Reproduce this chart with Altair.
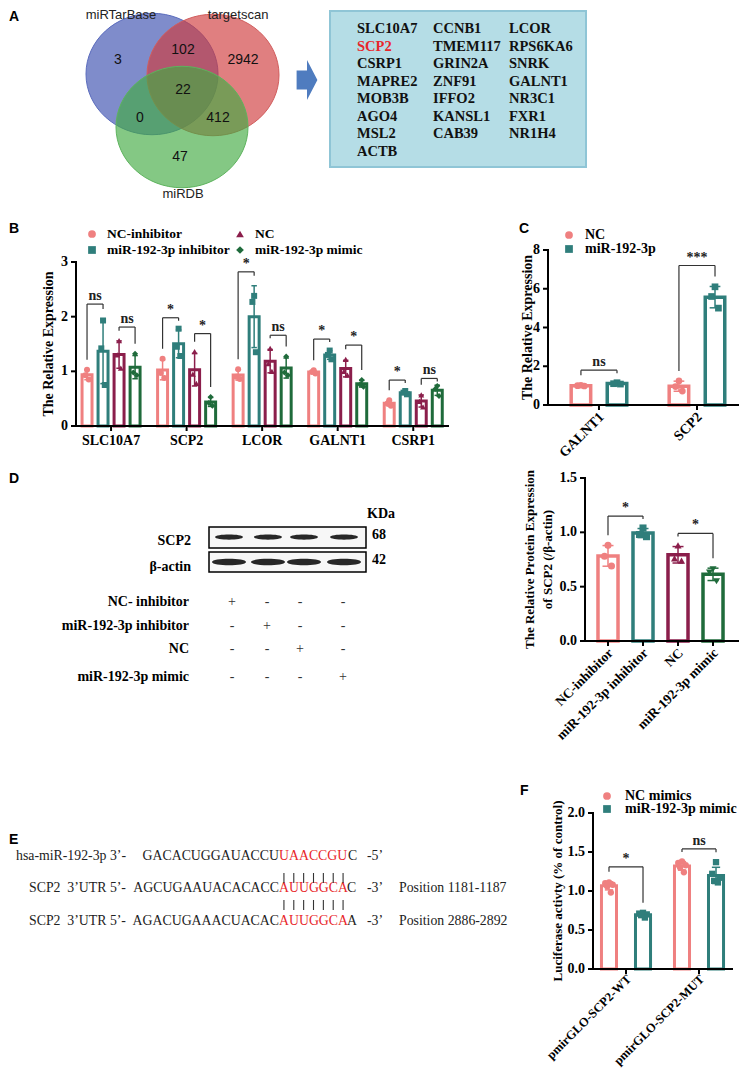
import altair as alt
import numpy as np
import pandas as pd

W, H = 731, 1064
OX, OY = 8, 8
SERIF = "Liberation Serif"
SANS = "Liberation Sans"

PINK, TEAL, MAROON, GREEN = "#EF8080", "#2F7E7B", "#8B1E4B", "#1F6B3B"

# ---------------- data ----------------
# A: Venn + predicted targets
venn_sets = ["miRTarBase", "targetscan", "miRDB"]
venn_region_counts = [3, 102, 2942, 22, 0, 412, 47]
target_genes = ["SLC10A7", "CCNB1", "LCOR", "SCP2", "TMEM117", "RPS6KA6", "CSRP1",
                "GRIN2A", "SNRK", "MAPRE2", "ZNF91", "GALNT1", "MOB3B", "IFFO2",
                "NR3C1", "AGO4", "KANSL1", "FXR1", "MSL2", "CAB39", "NR1H4", "ACTB"]
highlight_gene = "SCP2"

# B: qPCR of candidate targets
b_genes = ["SLC10A7", "SCP2", "LCOR", "GALNT1", "CSRP1"]
b_groups = ["NC-inhibitor", "miR-192-3p inhibitor", "NC", "miR-192-3p mimic"]
b_nc_inhibitor = [[1.03, 0.93, 0.85], [1.23, 0.97, 0.88], [1.04, 0.90, 0.86], [1.02, 0.99, 0.96], [0.47, 0.41, 0.37]]
b_mir_inhibitor = [[1.93, 1.42, 0.75], [1.78, 1.45, 1.28], [2.38, 2.27, 1.35], [1.38, 1.30, 1.22], [0.64, 0.61, 0.58]]
b_nc = [[1.56, 1.30, 1.06], [1.36, 0.95, 0.78], [1.42, 1.14, 1.00], [1.22, 1.00, 0.93], [0.57, 0.45, 0.35]]
b_mimic = [[1.32, 0.98, 0.93], [0.53, 0.42, 0.37], [1.27, 0.98, 0.93], [0.84, 0.76, 0.72], [0.73, 0.68, 0.55]]
b_sig_inhibitor = ["ns", "*", "*", "*", "*"]
b_sig_inhibitor_y = [2.23, 1.98, 2.82, 1.59, 0.84]
b_sig_mimic = ["ns", "*", "ns", "*", "ns"]
b_sig_mimic_y = [1.81, 1.69, 1.66, 1.48, 0.87]
b_yticks = [0, 1, 2, 3]

# C
c_genes = ["GALNT1", "SCP2"]
c_groups = ["NC", "miR-192-3p"]
c_nc = [[1.02, 1.00, 0.98], [1.24, 0.95, 0.72]]
c_mir = [[1.15, 1.10, 1.08], [6.10, 5.60, 5.00]]
c_sig = ["ns", "***"]
c_sig_y = [1.8, 7.2]
c_yticks = [0, 2, 4, 6, 8]

# D
d_groups = ["NC-inhibitor", "miR-192-3p inhibitor", "NC", "miR-192-3p mimic"]
d_values = [[0.88, 0.78, 0.69], [1.04, 0.98, 0.96], [0.88, 0.76, 0.74], [0.66, 0.63, 0.55]]
d_sig = ["*", "*"]
d_sig_y = [1.15, 0.99]
d_yticks = [0, 0.5, 1.0, 1.5]
blot_proteins = ["SCP2", "β-actin"]
blot_kda = ["68", "42"]
treatments = ["NC- inhibitor", "miR-192-3p inhibitor", "NC", "miR-192-3p mimic"]
treatment_design = ["+---", "-+--", "--+-", "---+"]

# E
mirna_label = "hsa-miR-192-3p 3’-"
mirna_upstream = "GACACUGGAUACCU"
mirna_seed = "UAACCGU"
mirna_tail = "C"
mirna_end = "-5’"
utr_label = "SCP2\u00a0\u00a03’UTR 5’-"
utr_upstream = ["AGCUGAAUACACACC", "AGACUGAAACUACAC"]
utr_site = ["AUUGGCA", "AUUGGCA"]
utr_tail = ["C", "A"]
utr_end = "-3’"
utr_positions = ["Position 1181-1187", "Position 2886-2892"]

# F
f_constructs = ["pmirGLO-SCP2-WT", "pmirGLO-SCP2-MUT"]
f_groups = ["NC mimics", "miR-192-3p mimic"]
f_nc = [[1.11, 1.10, 1.08, 1.06, 0.98], [1.38, 1.36, 1.33, 1.30, 1.24]]
f_mir = [[0.72, 0.71, 0.70, 0.69, 0.66], [1.37, 1.22, 1.17, 1.13, 1.11]]
f_sig = ["*", "ns"]
f_sig_y = [1.31, 1.54]
f_yticks = [0, 0.5, 1.0, 1.5, 2.0]

# ---------------- layout (page pixels) ----------------
PANEL_LETTERS = [(9, 17, "A"), (9, 229, "B"), (519, 229, "C"), (9, 479, "D"), (9, 840, "E"), (520, 791, "F")]
VENN_CENTERS = [(152, 74), (213, 75), (182, 127)]
VENN_LABEL_POS = [(121, 15), (238, 15), (183, 194)]
VENN_NUM_POS = [(118, 60), (183, 50), (243, 60), (183, 90), (140, 118), (218, 118), (180, 157)]
VENN_FILL = ["#3A4EAF", "#CF3A3C", "#42AA42"]
VENN_STROKE = ["#5A6BBD", "#D15D5D", "#5DB35D"]
ELLIPSE = ("M-1,0 C-1,-0.508 -0.552,-0.92 0,-0.92 C0.552,-0.92 1,-0.508 1,0 "
           "C1,0.508 0.552,0.92 0,0.92 C-0.552,0.92 -1,0.508 -1,0 Z")
ARROW = "M-0.52,-0.48 L0,-0.48 L0,-1 L0.52,0 L0,1 L0,0.48 L-0.52,0.48 Z"
BAND = "M-1,0 C-1,-0.25 1,-0.25 1,0 C1,0.25 -1,0.25 -1,0 Z"
LIST_BOX = (330, 11, 586, 167)
LIST_COL_X = [357, 433, 509]
LIST_ROW_Y0, LIST_ROW_DY = 29, 17.5

JITTER = {3: [0.0, -0.35, 0.35], 5: [0.0, -0.5, 0.5, -0.25, 0.25]}


def cx(f):
    return alt.X(f, type="quantitative", axis=None,
                 scale=alt.Scale(domain=[OX, OX + W], range=[0, W], nice=False, zero=False))


def cy(f):
    return alt.Y(f, type="quantitative", axis=None,
                 scale=alt.Scale(domain=[OY, OY + H], range=[0, H], nice=False, zero=False))


def text_layer(rows, **mk):
    base = dict(font=SERIF, fontSize=14, align="left", baseline="middle", color="black")
    base.update(mk)
    df = pd.DataFrame(rows, columns=["x", "y", "t"])
    return alt.Chart(df).mark_text(**base).encode(x=cx("x"), y=cy("y"), text="t:N")


static = []
static.append(text_layer(PANEL_LETTERS, font=SANS, fontWeight="bold", fontSize=14))

# Venn
venn_df = pd.DataFrame({"set": venn_sets,
                        "x": [c[0] for c in VENN_CENTERS], "y": [c[1] for c in VENN_CENTERS]})
static.append(alt.Chart(venn_df).mark_point(shape=ELLIPSE, size=132 ** 2, filled=True, opacity=1,
                                            fillOpacity=0.65, strokeOpacity=1, strokeWidth=1).encode(
    x=cx("x"), y=cy("y"),
    fill=alt.Fill("set:N", scale=alt.Scale(domain=venn_sets, range=VENN_FILL), legend=None),
    stroke=alt.Stroke("set:N", scale=alt.Scale(domain=venn_sets, range=VENN_STROKE), legend=None)))
static.append(text_layer([(p[0], p[1], s) for p, s in zip(VENN_LABEL_POS, venn_sets)],
                         font=SANS, fontSize=13, align="center", color="#222222"))
static.append(text_layer([(p[0], p[1], str(n)) for p, n in zip(VENN_NUM_POS, venn_region_counts)],
                         font=SANS, fontSize=14, align="center", color="#111111"))
static.append(alt.Chart(pd.DataFrame({"x": [307], "y": [80]})).mark_point(
    shape=ARROW, size=1600, filled=True, opacity=1, color="#4F7CBF").encode(x=cx("x"), y=cy("y")))
bx = pd.DataFrame({"x": [LIST_BOX[0]], "y": [LIST_BOX[1]], "x2": [LIST_BOX[2]], "y2": [LIST_BOX[3]]})
static.append(alt.Chart(bx).mark_rect(fill="#B5DDE6", stroke="#8FC5D6", strokeWidth=2).encode(
    x=cx("x"), y=cy("y"), x2="x2:Q", y2="y2:Q"))
gene_df = pd.DataFrame({"t": target_genes,
                        "x": [LIST_COL_X[i % 3] for i in range(len(target_genes))],
                        "y": [LIST_ROW_Y0 + LIST_ROW_DY * (i // 3) for i in range(len(target_genes))]})
static.append(alt.Chart(gene_df).mark_text(font=SERIF, fontSize=14.5, fontWeight="bold", align="left",
                                           baseline="middle").encode(
    x=cx("x"), y=cy("y"), text="t:N",
    color=alt.condition(alt.datum.t == highlight_gene, alt.value("#E8262B"), alt.value("#111111"))))

# D: blot
BLOT_LANE_X = [229, 268, 304, 344]
BLOT_BOX = [(209, 527, 366, 548), (209, 552, 366, 572)]
BAND_Y = [537, 562]
BAND_W = [28, 34]
boxes = pd.DataFrame(BLOT_BOX, columns=["x", "y", "x2", "y2"])
static.append(alt.Chart(boxes).mark_rect(fill="#F7F7F7", stroke="black", strokeWidth=1.5).encode(
    x=cx("x"), y=cy("y"), x2="x2:Q", y2="y2:Q"))
for r in range(len(blot_proteins)):
    bands = pd.DataFrame({"x": BLOT_LANE_X, "y": [BAND_Y[r]] * len(BLOT_LANE_X)})
    static.append(alt.Chart(bands).mark_point(shape=BAND, size=BAND_W[r] ** 2, filled=True, opacity=0.92,
                                              color="#151515").encode(x=cx("x"), y=cy("y")))
static.append(text_layer([(191, 541, blot_proteins[0]), (191, 567, blot_proteins[1])],
                         fontWeight="bold", align="right"))
static.append(text_layer([(367, 514, "KDa"), (372, 535, blot_kda[0]), (372, 560, blot_kda[1])],
                         fontWeight="bold"))
TREAT_Y = [602, 626, 649, 677]
SIGN_X = [232, 267, 300, 343]
static.append(text_layer([(189, y, t) for y, t in zip(TREAT_Y, treatments)], fontWeight="bold", align="right"))
sign_rows = []
for r, row in enumerate(treatment_design):
    for c, s in enumerate(row):
        sign_rows.append((SIGN_X[c], TREAT_Y[r], s))
static.append(text_layer(sign_rows, fontSize=14, align="center", color="#333333"))

# E: sequences
E_Y = [856, 888, 921]
SEED_X, SEED_W = 279, 69
E_FS = 13.8
ecol = "#222222"
seq_black, seq_red = [], []
seq_black.append((16, E_Y[0], mirna_label))
seq_black.append((348, E_Y[0], mirna_tail))
seq_black.append((367, E_Y[0], mirna_end))
seq_red.append((SEED_X, E_Y[0], mirna_seed))
for i in range(2):
    y = E_Y[i + 1]
    seq_black.append((29, y, utr_label))
    seq_black.append((SEED_X + SEED_W - 1, y, utr_tail[i]))
    seq_black.append((367, y, utr_end))
    seq_black.append((399, y, utr_positions[i]))
    seq_red.append((SEED_X, y, utr_site[i]))
static.append(text_layer(seq_black, font=SERIF, fontSize=E_FS, color=ecol))
static.append(text_layer([(SEED_X, E_Y[0], mirna_upstream), (SEED_X, E_Y[1], utr_upstream[0]),
                          (SEED_X, E_Y[2], utr_upstream[1])], font=SERIF, fontSize=E_FS, color=ecol,
                         align="right"))
static.append(text_layer(seq_red, font=SERIF, fontSize=E_FS, color="#E8262B"))
PIPE_SPANS = [(873, 883), (900, 910)]
pipes = []
for ya, yb in PIPE_SPANS:
    for k in range(len(mirna_seed)):
        pipes.append({"x": SEED_X + (k + 0.5) * SEED_W / len(mirna_seed), "y": ya, "y2": yb})
static.append(alt.Chart(pd.DataFrame(pipes)).mark_rule(color="#333333", strokeWidth=1.1).encode(
    x=cx("x"), y=cy("y"), y2="y2:Q"))


def legend_layer(series, colors, shapes, positions, label_dx, fs=14):
    df = pd.DataFrame({"s": series, "x": [p[0] for p in positions], "y": [p[1] for p in positions]})
    sym = alt.Chart(df).mark_point(filled=True, opacity=1, size=60).encode(
        x=cx("x"), y=cy("y"),
        color=alt.Color("s:N", scale=alt.Scale(domain=series, range=colors), legend=None),
        shape=alt.Shape("s:N", scale=alt.Scale(domain=series, range=shapes), legend=None))
    lab = alt.Chart(df).mark_text(font=SERIF, fontSize=fs, fontWeight="bold", align="left",
                                  baseline="middle", color="black", xOffset=label_dx).encode(
        x=cx("x"), y=cy("y"), text="s:N")
    return [sym, lab]


# ---------------- bar panels ----------------
def panel(cats, series, cells, brackets, colors, shapes, yticks, L):
    off, half = L["offsets"], L["half"]
    y0, y1 = L["ydom"]
    x_lo, x_hi = L["xdom"]
    ppu = (L["ybase"] - L["ytop"]) / (y1 - y0)
    pts, stats, tops = [], [], {}
    for ci, sj, vals in cells:
        xc = ci + off[sj]
        jit = JITTER[len(vals)]
        for k, v in enumerate(vals):
            pts.append({"series": series[sj], "v": v, "xp": xc + jit[k] * half})
        m = float(np.mean(vals))
        sd = float(np.std(vals, ddof=1))
        stats.append({"series": series[sj], "mean": m, "lo": m - sd, "hi": m + sd, "xc": xc,
                      "xl": xc - half, "xr": xc + half, "cl": xc - 0.55 * half, "cr": xc + 0.55 * half})
        tops[(ci, sj)] = max(m + sd, max(vals))
    gap, minleg = L["gap_px"] / ppu, 3 / ppu
    brk = []
    for a, b, h, lab in brackets:
        xa, xb = a[0] + off[a[1]], b[0] + off[b[1]]
        brk.append({"xa": xa, "xb": xb, "xm": (xa + xb) / 2, "h": h, "lab": lab,
                    "ba": min(tops[a] + gap, h - minleg), "bb": min(tops[b] + gap, h - minleg)})
    pts, stats, brk = pd.DataFrame(pts), pd.DataFrame(stats), pd.DataFrame(brk)

    xs = alt.Scale(domain=[x_lo, x_hi], range=[L["x0"] - OX, L["x1"] - OX], nice=False, zero=False)
    ys = alt.Scale(domain=[y0, y1], range=[L["ybase"] - OY, L["ytop"] - OY], nice=False, zero=False)
    ss = alt.Scale(domain=series, range=colors)
    shs = alt.Scale(domain=series, range=shapes)

    def X(f):
        return alt.X(f, type="quantitative", scale=xs, axis=None)

    def Y(f):
        return alt.Y(f, type="quantitative", scale=ys, axis=None)

    stroke = alt.Stroke("series:N", scale=ss, legend=None)
    layers = []
    layers.append(alt.Chart(stats).mark_bar(fill="white", strokeWidth=L["sw"]).encode(
        x=X("xl"), x2="xr:Q", y=Y("mean"), y2=alt.datum(0), stroke=stroke))
    layers.append(alt.Chart(stats).mark_rule(strokeWidth=1.5).encode(x=X("xc"), y=Y("lo"), y2="hi:Q", stroke=stroke))
    layers.append(alt.Chart(stats).mark_rule(strokeWidth=1.5).encode(x=X("cl"), x2="cr:Q", y=Y("hi"), stroke=stroke))
    layers.append(alt.Chart(stats).mark_rule(strokeWidth=1.5).encode(x=X("cl"), x2="cr:Q", y=Y("lo"), stroke=stroke))
    layers.append(alt.Chart(pts).mark_point(filled=True, size=L["ptsize"], opacity=1).encode(
        x=X("xp"), y=Y("v"),
        color=alt.Color("series:N", scale=ss, legend=None),
        shape=alt.Shape("series:N", scale=shs, legend=None)))
    bl = alt.Chart(brk).mark_rule(color="#333333", strokeWidth=1.2)
    layers.append(bl.encode(x=X("xa"), x2="xb:Q", y=Y("h")))
    layers.append(bl.encode(x=X("xa"), y=Y("h"), y2="ba:Q"))
    layers.append(bl.encode(x=X("xb"), y=Y("h"), y2="bb:Q"))
    layers.append(alt.Chart(brk).mark_text(font=SERIF, fontWeight="bold", fontSize=14, baseline="bottom",
                                           dy=-1, color="#222222").encode(x=X("xm"), y=Y("h"), text="lab:N"))

    # axes, drawn through the panel's own scales
    ax = pd.DataFrame({"xa": [x_lo], "xb": [x_hi], "ya": [y0], "yb": [y1]})
    dom = alt.Chart(ax).mark_rule(color="black", strokeWidth=2, strokeCap="square")
    layers.append(dom.encode(x=X("xa"), x2="xb:Q", y=Y("ya")))
    layers.append(dom.encode(x=X("xa"), y=Y("ya"), y2="yb:Q"))
    xt = pd.DataFrame({"v": list(range(len(cats))), "lab": cats, "y": [y0] * len(cats)})
    layers.append(alt.Chart(xt).mark_rule(color="black", strokeWidth=2, y2Offset=5).encode(
        x=X("v"), y=Y("y"), y2="y:Q"))
    ang = L["angle"]
    if ang == 0:
        xl_mark = alt.Chart(xt).mark_text(font=SERIF, fontWeight="bold", fontSize=L["xlab_fs"], color="black",
                                          align="center", baseline="middle", yOffset=L["xlab_dy"])
    else:
        xl_mark = alt.Chart(xt).mark_text(font=SERIF, fontWeight="bold", fontSize=L["xlab_fs"], color="black",
                                          align="right", baseline="middle", angle=360 + ang,
                                          yOffset=L["xlab_dy"], xOffset=L["xlab_dx"])
    layers.append(xl_mark.encode(x=X("v"), y=Y("y"), text="lab:N"))
    yt = pd.DataFrame({"v": yticks, "lab": [L["yfmt"].format(v) for v in yticks], "x": [x_lo] * len(yticks)})
    layers.append(alt.Chart(yt).mark_rule(color="black", strokeWidth=2, x2Offset=-5).encode(
        x=X("x"), x2="x:Q", y=Y("v")))
    layers.append(alt.Chart(yt).mark_text(font=SERIF, fontWeight="bold", fontSize=14, color="black",
                                          align="right", baseline="middle", xOffset=-8).encode(
        x=X("x"), y=Y("v"), text="lab:N"))
    tt = pd.DataFrame({"x": [x_lo], "y": [(y0 + y1) / 2], "t": [L["ytitle"]]})
    layers.append(alt.Chart(tt).mark_text(font=SERIF, fontWeight="bold", fontSize=L["ytitlesize"],
                                          color="black", align="center", baseline="middle", angle=270,
                                          lineBreak="\n", lineHeight=18, xOffset=L["ytitle_dx"]).encode(
        x=X("x"), y=Y("y"), text="t:N"))
    return alt.layer(*layers)


# B
b_series_vals = [b_nc_inhibitor, b_mir_inhibitor, b_nc, b_mimic]
b_cells = [(ci, sj, arr[ci]) for sj, arr in enumerate(b_series_vals) for ci in range(len(b_genes))]
b_brackets = []
for ci in range(len(b_genes)):
    b_brackets.append(((ci, 0), (ci, 1), b_sig_inhibitor_y[ci], b_sig_inhibitor[ci]))
    b_brackets.append(((ci, 2), (ci, 3), b_sig_mimic_y[ci], b_sig_mimic[ci]))
LB = dict(x0=76, x1=448, xdom=[-0.464, 4.46], ybase=426, ytop=262, ydom=[0, 3],
          offsets=[-0.318, -0.106, 0.106, 0.318], half=0.066, sw=3, ptsize=36, angle=0, xlab_dy=15,
          xlab_fs=14, yfmt="{:.0f}", ytitle="The Relative Expression", ytitlesize=14, ytitle_dx=-27, gap_px=10)
B_COLORS = [PINK, TEAL, MAROON, GREEN]
B_SHAPES = ["circle", "square", "triangle-up", "diamond"]
pB = panel(b_genes, b_groups, b_cells, b_brackets, B_COLORS, B_SHAPES, b_yticks, LB)

# C
c_cells = [(ci, sj, arr[ci]) for sj, arr in enumerate([c_nc, c_mir]) for ci in range(len(c_genes))]
c_brackets = [((ci, 0), (ci, 1), c_sig_y[ci], c_sig[ci]) for ci in range(len(c_genes))]
LC = dict(x0=548, x1=745, xdom=[-0.52, 1.49], ybase=405, ytop=250, ydom=[0, 8], offsets=[-0.184, 0.184],
          half=0.0995, sw=3.5, ptsize=45, angle=-45, xlab_dy=10, xlab_dx=3, xlab_fs=14,
          yfmt="{:.0f}", ytitle="The Relative Expression", ytitlesize=14, ytitle_dx=-20, gap_px=10)
pC = panel(c_genes, c_groups, c_cells, c_brackets, [PINK, TEAL], ["circle", "square"], c_yticks, LC)

# D
d_cells = [(i, i, d_values[i]) for i in range(len(d_groups))]
d_brackets = [((0, 0), (1, 1), d_sig_y[0], d_sig[0]), ((2, 2), (3, 3), d_sig_y[1], d_sig[1])]
LD = dict(x0=585, x1=738, xdom=[-0.657, 3.714], ybase=641, ytop=478, ydom=[0, 1.5], offsets=[0, 0, 0, 0],
          half=0.286, sw=3.5, ptsize=50, angle=-45, xlab_dy=10, xlab_dx=3, xlab_fs=13.5,
          yfmt="{:.1f}", ytitle="The Relative Protein Expression\nof SCP2 (/β-actin)", ytitlesize=13,
          ytitle_dx=-55, gap_px=10)
pD = panel(d_groups, d_groups, d_cells, d_brackets, [PINK, TEAL, MAROON, GREEN],
           ["circle", "square", "triangle-up", "triangle-down"], d_yticks, LD)

# F
f_cells = [(ci, sj, arr[ci]) for sj, arr in enumerate([f_nc, f_mir]) for ci in range(len(f_constructs))]
f_brackets = [((ci, 0), (ci, 1), f_sig_y[ci], f_sig[ci]) for ci in range(len(f_constructs))]
LF = dict(x0=593, x1=732, xdom=[-0.452, 1.452], ybase=969, ytop=813, ydom=[0, 2], offsets=[-0.233, 0.233],
          half=0.103, sw=3, ptsize=40, angle=-45, xlab_dy=8, xlab_dx=3, xlab_fs=12.5,
          yfmt="{:.1f}", ytitle="Luciferase activty (% of control)", ytitlesize=13, ytitle_dx=-35, gap_px=10)
pF = panel(f_constructs, f_groups, f_cells, f_brackets, [PINK, TEAL], ["circle", "square"], f_yticks, LF)

# legends (page positions)
static += legend_layer(b_groups, B_COLORS, B_SHAPES, [(92, 234), (92, 250), (240, 234), (240, 250)], 15, fs=13.5)
static += legend_layer(c_groups, [PINK, TEAL], ["circle", "square"], [(569, 235), (569, 249)], 16)
static += legend_layer(f_groups, [PINK, TEAL], ["circle", "square"], [(607, 796), (607, 809)], 18)

chart = alt.layer(*static, pB, pC, pD, pF).resolve_scale(
    x="independent", y="independent", color="independent", shape="independent",
    stroke="independent", fill="independent"
).properties(width=W, height=H, padding=0, autosize=alt.AutoSizeParams(type="none"),
             background="white").configure_view(stroke=None)

chart.save("out.html", embed_options={"renderer": "svg", "actions": False})
